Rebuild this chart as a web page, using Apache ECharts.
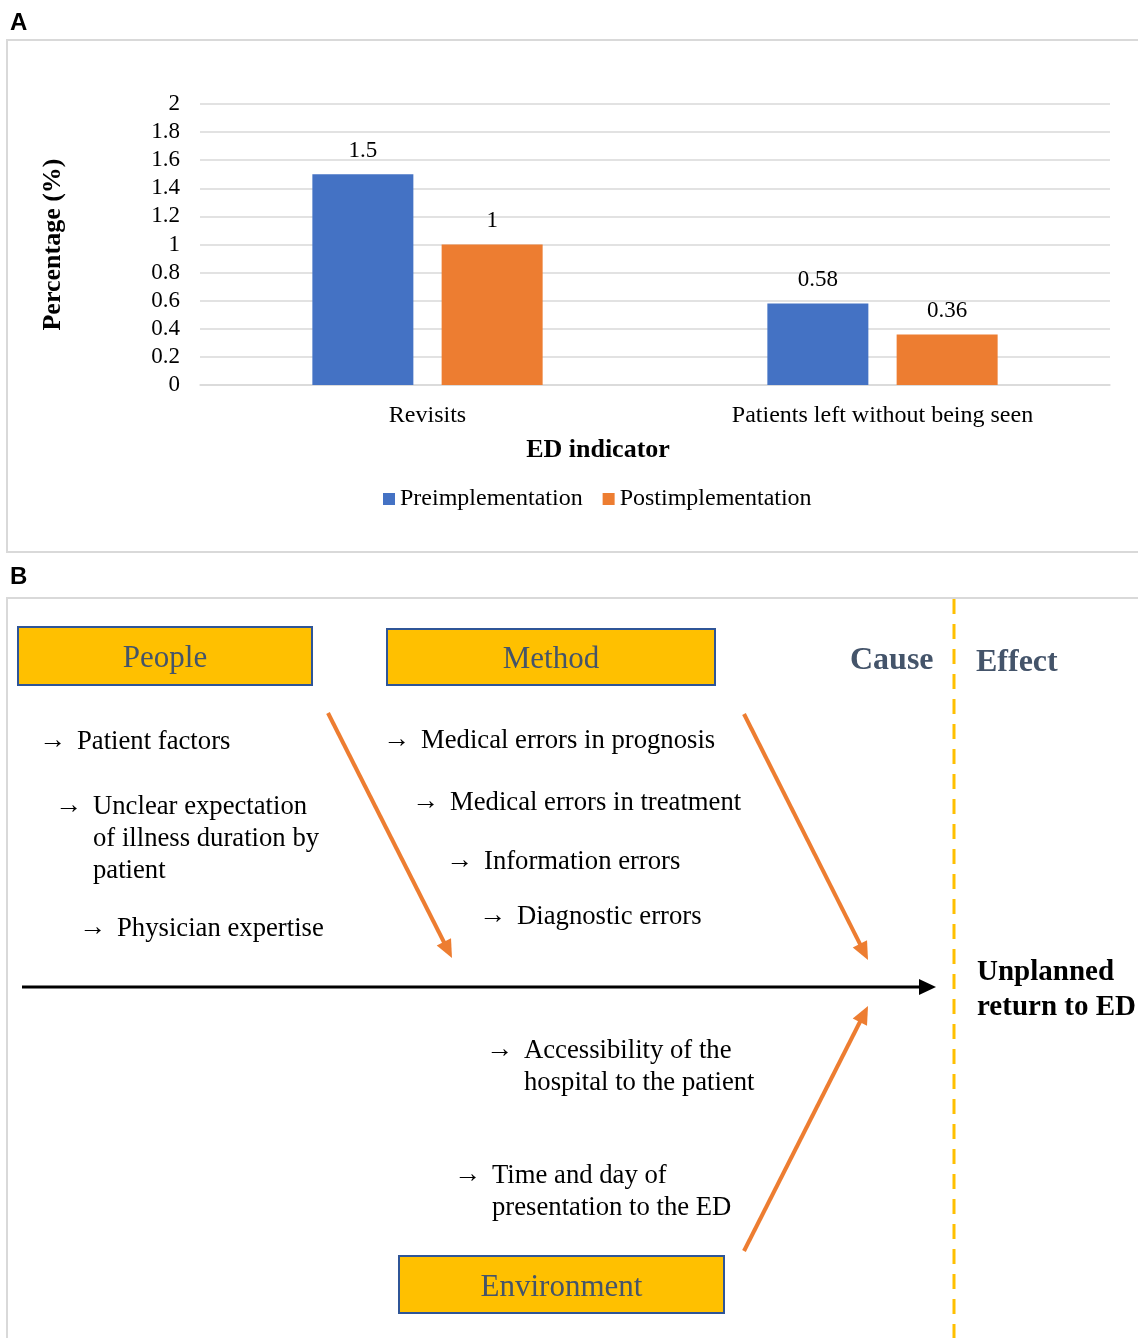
<!DOCTYPE html>
<html>
<head>
<meta charset="utf-8">
<script src="https://cdn.jsdelivr.net/npm/echarts@6/dist/echarts.min.js"></script>
<style>
  html, body { margin: 0; padding: 0; background: #fff; }
  #chart { width: 1138px; height: 1338px; }
</style>
</head>
<body>
<div id="chart"></div>
<script>
// ---- Panel A data: ED indicators before / after implementation ----
const indicators = ['Revisits', 'Patients left without being seen'];
const seriesNames = ['Preimplementation', 'Postimplementation'];
const preImplementation = [1.5, 0.58];
const postImplementation = [1, 0.36];

// ---- Panel B content: cause-and-effect (fishbone) diagram ----
const categoryNames = ['People', 'Method', 'Environment'];
const peopleCauses = ['Patient factors', 'Unclear expectation\nof illness duration by\npatient', 'Physician expertise'];
const methodCauses = ['Medical errors in prognosis', 'Medical errors in treatment', 'Information errors', 'Diagnostic errors'];
const environmentCauses = ['Accessibility of the\nhospital to the patient', 'Time and day of\npresentation to the ED'];
const sideLabels = ['Cause', 'Effect'];
const effectLabel = 'Unplanned\nreturn to ED';

// ---- layout of the diagram ----
const SERIF = "'Liberation Serif', 'Times New Roman', serif";
const SANS = "'Liberation Sans', Arial, sans-serif";
const BLUE = '#4472C4', ORANGE = '#ED7D31', GOLD = '#FFC000';
const BOX_TEXT = '#44546A', BOX_EDGE = '#2F5597', FRAME = '#d9d9d9';

const boxLayout = [
  { x: 18, y: 627, w: 294, h: 58 },
  { x: 387, y: 629, w: 328, h: 56 },
  { x: 399, y: 1256, w: 325, h: 57 }
];
const peopleAnchors = [[42, 742], [58, 807], [82, 929]];
const methodAnchors = [[386, 741], [415, 803], [449, 862], [482, 917]];
const environmentAnchors = [[489, 1051], [457, 1176]];
const branchArrows = [
  [[328, 713], [452, 958]],
  [[744, 714], [868, 960]],
  [[744, 1251], [868, 1006]]
];

const graphics = [];

// panel letters and frames
graphics.push({ type: 'text', style: { text: 'A', x: 10, y: 23, font: 'bold 24px ' + SANS, fill: '#000', verticalAlign: 'middle' } });
graphics.push({ type: 'text', style: { text: 'B', x: 10, y: 577, font: 'bold 24px ' + SANS, fill: '#000', verticalAlign: 'middle' } });
graphics.push({ type: 'rect', shape: { x: 7, y: 40, width: 1140, height: 512 }, style: { fill: 'none', stroke: FRAME, lineWidth: 2 }, z: -1 });
graphics.push({ type: 'rect', shape: { x: 7, y: 598, width: 1140, height: 760 }, style: { fill: 'none', stroke: FRAME, lineWidth: 2 }, z: -1 });

// arrow helper: shaft plus a triangular head at the end point
function arrow(p0, p1, color, width, headLen, headHalf) {
  const dx = p1[0] - p0[0], dy = p1[1] - p0[1];
  const len = Math.sqrt(dx * dx + dy * dy);
  const ux = dx / len, uy = dy / len;
  const bx = p1[0] - ux * headLen, by = p1[1] - uy * headLen;
  graphics.push({ type: 'line', shape: { x1: p0[0], y1: p0[1], x2: bx + ux * 2, y2: by + uy * 2 }, style: { stroke: color, lineWidth: width } });
  graphics.push({ type: 'polygon', shape: { points: [[p1[0], p1[1]], [bx - uy * headHalf, by + ux * headHalf], [bx + uy * headHalf, by - ux * headHalf]] }, style: { fill: color } });
}

// cause / effect separator
graphics.push({ type: 'line', shape: { x1: 954, y1: 599, x2: 954, y2: 1338 }, style: { stroke: GOLD, lineWidth: 3, lineDash: [15, 10] } });

// spine
arrow([22, 987], [936, 987], '#000', 3, 17, 8);

// branch arrows
branchArrows.forEach(a => arrow(a[0], a[1], ORANGE, 4, 18, 8));

// category boxes
categoryNames.forEach((name, i) => {
  const b = boxLayout[i];
  graphics.push({ type: 'rect', shape: { x: b.x, y: b.y, width: b.w, height: b.h }, style: { fill: GOLD, stroke: BOX_EDGE, lineWidth: 2 } });
  graphics.push({ type: 'text', style: { text: name, x: b.x + b.w / 2, y: b.y + b.h / 2 + 3, font: '31px ' + SERIF, fill: BOX_TEXT, align: 'center', verticalAlign: 'middle' } });
});

// cause items
function causeList(items, anchors) {
  items.forEach((txt, i) => {
    const [ax, ay] = anchors[i];
    graphics.push({ type: 'text', style: { text: '\u2192', x: ax - 3, y: ay - 1, font: '27px ' + SERIF, fill: '#000', verticalAlign: 'middle' } });
    txt.split('\n').forEach((line, j) => {
      graphics.push({ type: 'text', style: { text: line, x: ax + 35, y: ay + j * 32, font: '26.7px ' + SERIF, fill: '#000', verticalAlign: 'middle' } });
    });
  });
}
causeList(peopleCauses, peopleAnchors);
causeList(methodCauses, methodAnchors);
causeList(environmentCauses, environmentAnchors);

// headings
graphics.push({ type: 'text', style: { text: sideLabels[0], x: 850, y: 661, font: 'bold 32px ' + SERIF, fill: BOX_TEXT, verticalAlign: 'middle' } });
graphics.push({ type: 'text', style: { text: sideLabels[1], x: 976, y: 663, font: 'bold 32px ' + SERIF, fill: BOX_TEXT, verticalAlign: 'middle' } });
effectLabel.split('\n').forEach((line, j) => {
  graphics.push({ type: 'text', style: { text: line, x: 977, y: 973 + j * 35, font: 'bold 29px ' + SERIF, fill: '#000', verticalAlign: 'middle' } });
});

const chart = echarts.init(document.getElementById('chart'));
chart.setOption({
  animation: false,
  backgroundColor: '#fff',
  textStyle: { fontFamily: SERIF },
  grid: { left: 200, right: 28, top: 104, height: 281 },
  legend: {
    data: seriesNames,
    left: 378, top: 482,
    icon: 'rect', itemWidth: 12, itemHeight: 12, itemGap: 20,
    textStyle: { fontSize: 24, color: '#000', fontFamily: SERIF }
  },
  xAxis: {
    type: 'category',
    data: indicators,
    axisLine: { lineStyle: { color: FRAME, width: 1.5 } },
    axisTick: { show: false },
    axisLabel: { fontSize: 24, color: '#000', margin: 19, fontFamily: SERIF },
    name: 'ED indicator',
    nameLocation: 'middle',
    nameGap: 52,
    nameTextStyle: { fontSize: 26, fontWeight: 'bold', color: '#000', fontFamily: SERIF, padding: [0, 114, 0, 0] }
  },
  yAxis: {
    type: 'value',
    min: 0, max: 2, interval: 0.2,
    axisLine: { show: false },
    axisTick: { show: false },
    splitLine: { lineStyle: { color: FRAME, width: 1.5 } },
    axisLabel: { fontSize: 23, color: '#000', margin: 20, fontFamily: SERIF },
    name: 'Percentage (%)',
    nameLocation: 'middle',
    nameGap: 134,
    nameTextStyle: { fontSize: 26, fontWeight: 'bold', color: '#000', fontFamily: SERIF }
  },
  series: [
    {
      name: seriesNames[0], type: 'bar', data: preImplementation,
      barWidth: 101, barGap: '28%',
      itemStyle: { color: BLUE },
      label: { show: true, position: 'top', distance: 12, fontSize: 23, color: '#000', fontFamily: SERIF }
    },
    {
      name: seriesNames[1], type: 'bar', data: postImplementation,
      barWidth: 101,
      itemStyle: { color: ORANGE },
      label: { show: true, position: 'top', distance: 12, fontSize: 23, color: '#000', fontFamily: SERIF }
    }
  ],
  graphic: graphics
});
</script>
</body>
</html>
